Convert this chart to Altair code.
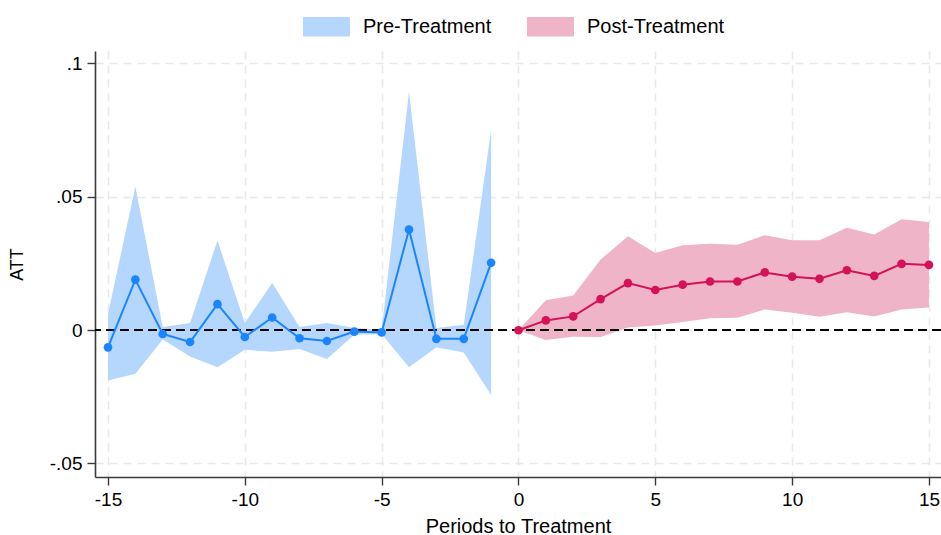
import altair as alt
import pandas as pd

# ---- data ----
pre_periods = list(range(-15, 0))
pre_att = [-0.0065, 0.0189, -0.0015, -0.0045, 0.0097, -0.0026, 0.0047, -0.0031,
           -0.0041, -0.0006, -0.0009, 0.0377, -0.0033, -0.0033, 0.0252]
pre_lo = [-0.0189, -0.0164, -0.0036, -0.0099, -0.0140, -0.0074, -0.0081, -0.0071,
          -0.0109, -0.0018, -0.0015, -0.0140, -0.0065, -0.0084, -0.0244]
pre_hi = [0.0060, 0.0538, 0.0011, 0.0026, 0.0336, 0.0026, 0.0176, 0.0011,
          0.0026, 0.0008, 0.0001, 0.0893, 0.0008, 0.0020, 0.0750]

post_periods = list(range(0, 16))
post_att = [-0.0001, 0.0036, 0.0051, 0.0116, 0.0176, 0.0150, 0.0170, 0.0182,
            0.0182, 0.0216, 0.0200, 0.0192, 0.0224, 0.0203, 0.0248, 0.0244]
post_lo = [-0.0001, -0.0037, -0.0025, -0.0026, 0.0009, 0.0017, 0.0030, 0.0044,
           0.0046, 0.0077, 0.0065, 0.0050, 0.0067, 0.0051, 0.0077, 0.0084]
post_hi = [-0.0001, 0.0112, 0.0129, 0.0264, 0.0352, 0.0289, 0.0318, 0.0323,
           0.0320, 0.0355, 0.0337, 0.0337, 0.0383, 0.0358, 0.0415, 0.0405]

groups = ["Pre-Treatment", "Post-Treatment"]
fill_colors = ["#b5d7fe", "#f0b4c9"]
line_colors = ["#1a85ff", "#d41159"]

x_ticks = [-15, -10, -5, 0, 5, 10, 15]
y_ticks = [-0.05, 0, 0.05, 0.1]

pre = pd.DataFrame({"period": pre_periods, "att": pre_att, "lo": pre_lo,
                    "hi": pre_hi, "group": groups[0]})
post = pd.DataFrame({"period": post_periods, "att": post_att, "lo": post_lo,
                     "hi": post_hi, "group": groups[1]})
df = pd.concat([pre, post], ignore_index=True)

FONT = "Liberation Sans"

xs = alt.Scale(domain=[-15.475, 15.44], nice=False, zero=False)
ys = alt.Scale(domain=[-0.0551, 0.1046], nice=False, zero=False)

x_axis = alt.Axis(values=x_ticks, title="Periods to Treatment", tickSize=8,
                  labelPadding=5, titlePadding=7, grid=True, titleFontSize=20,
                  labelExpr="datum.value < 0 ? '-' + abs(datum.value) : '' + datum.value")
y_axis = alt.Axis(values=y_ticks, title="ATT", tickSize=8, labelPadding=5,
                  titlePadding=23, grid=True, titleFontSize=18,
                  labelExpr="datum.value == 0 ? '0' : (datum.value < 0 ? '-' : '') + replace(format(abs(datum.value), '.2~f'), '0.', '.')")

base = alt.Chart(df)

area = base.mark_area(opacity=1).encode(
    x=alt.X("period:Q", scale=xs, axis=x_axis),
    y=alt.Y("lo:Q", scale=ys, axis=y_axis),
    y2="hi:Q",
    fill=alt.Fill("group:N", scale=alt.Scale(domain=groups, range=fill_colors),
                  legend=alt.Legend(orient="none", legendX=208, legendY=-48,
                                    direction="horizontal", title=None,
                                    symbolType="M-1,-0.42L1,-0.42L1,0.42L-1,0.42Z",
                                    symbolSize=2209, symbolStrokeWidth=0,
                                    symbolOpacity=1, labelFontSize=20,
                                    labelFont=FONT, labelOffset=13,
                                    columnPadding=35, padding=0)),
    detail="group:N",
)

zero = alt.Chart(pd.DataFrame({"y": [0]})).mark_rule(
    color="black", strokeDash=[9, 5], strokeWidth=1.8
).encode(y=alt.Y("y:Q", scale=ys))

line = base.mark_line(strokeWidth=2).encode(
    x=alt.X("period:Q", scale=xs),
    y=alt.Y("att:Q", scale=ys),
    stroke=alt.Stroke("group:N", scale=alt.Scale(domain=groups, range=line_colors),
                      legend=None),
)

points = base.mark_circle(size=75, opacity=1).encode(
    x=alt.X("period:Q", scale=xs),
    y=alt.Y("att:Q", scale=ys),
    color=alt.Color("group:N", scale=alt.Scale(domain=groups, range=line_colors),
                    legend=None),
)

chart = alt.layer(area, zero, line, points).properties(
    width=846, height=426,
    padding={"left": 95, "top": 51, "right": 0, "bottom": 58},
    autosize=alt.AutoSizeParams(type="none"),
    background="white",
).configure_view(stroke=None).configure_axis(
    labelFont=FONT, titleFont=FONT, labelFontSize=19,
    labelColor="black", titleColor="black", titleFontWeight="normal",
    domainColor="#3a3a3a", domainWidth=1.6, tickColor="#3a3a3a", tickWidth=1.4,
    gridColor="#e8e8e8", gridDash=[8, 6], gridWidth=1.5,
)

chart.save("out.html", embed_options={"renderer": "svg", "actions": False})
